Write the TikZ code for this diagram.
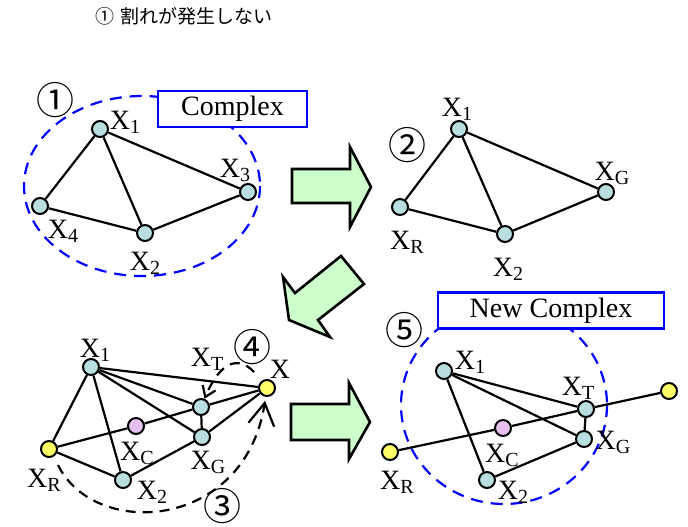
\documentclass[tikz,border=0pt]{standalone}
\usepackage{fontspec}
\setmainfont{Liberation Serif}
\newfontfamily\jpfont{Noto Sans CJK JP}
\usetikzlibrary{arrows.meta}

\newcommand{\Xsub}[1]{X\raisebox{-0.3ex}{\fontsize{10}{10}\selectfont #1}}

\begin{document}
\begin{tikzpicture}[x=0.5pt,y=-0.5pt,>={Straight Barb[length=5pt,width=7pt]}]

\definecolor{atomcyan}{RGB}{185, 222, 224}
\definecolor{atomyellow}{RGB}{255, 255, 102}
\definecolor{atompink}{RGB}{232, 192, 240}
\definecolor{arrowgreen}{RGB}{204, 255, 204}

\useasboundingbox (0,0) rectangle (688,526);

\tikzset{
    atom/.style={
        circle, draw=black, line width=1pt, fill=#1,
        minimum size=8pt, inner sep=0pt
    },
    atom/.default=atomcyan,
    bond/.style={draw=black, line width=1.1pt},
    tag/.style={font=\fontsize{14}{14}\selectfont, inner sep=0pt},
    stagenum/.style={font=\jpfont\fontsize{19}{19}\selectfont, inner sep=0pt},
    complexline/.style={draw=blue, line width=1.1pt, dash pattern=on 6pt off 4pt},
    complexbox/.style={
        draw=blue, line width=1.1pt, fill=white,
        minimum height=18pt, inner sep=0pt,
        font=\fontsize{14}{14}\selectfont
    },
    fatarrow/.style={draw=black, line width=1.3pt, fill=arrowgreen, line join=miter},
    moveline/.style={draw=black, line width=1.1pt, dash pattern=on 5pt off 3.5pt}
}

% Title
\node[anchor=west, inner sep=0pt] (title) at (95,16)
    {\jpfont\fontsize{9.5}{10}\selectfont ①\hspace{3pt}割れが発生しない};

% --- PANEL 1: COMPLEX ---
\draw[complexline] (142,186) ellipse [x radius=118, y radius=90];
\node[complexbox, minimum width=74.5pt] (box1) at (232.5,109) {Complex};
\node[stagenum] (n1) at (55,100) {①};

\node[atom] (a1) at (100,129) {};
\node[atom] (a3) at (248,192) {};
\node[atom] (a4) at (40,206) {};
\node[atom] (a2) at (145,233) {};

\draw[bond] (a1) -- (a4);
\draw[bond] (a1) -- (a2);
\draw[bond] (a1) -- (a3);
\draw[bond] (a4) -- (a2);
\draw[bond] (a2) -- (a3);

\node[tag] (ta1) at (125,122) {\Xsub{1}};
\node[tag] (ta3) at (235,170) {\Xsub{3}};
\node[tag] (ta4) at (63,231) {\Xsub{4}};
\node[tag] (ta2) at (145,263) {\Xsub{2}};

% --- PANEL 2 ---
\node[stagenum] (n2) at (407,145) {②};

\node[atom] (b1) at (459,129) {};
\node[atom] (bG) at (606,192) {};
\node[atom] (bR) at (400,207) {};
\node[atom] (b2) at (505,234) {};

\draw[bond] (b1) -- (bR);
\draw[bond] (b1) -- (b2);
\draw[bond] (b1) -- (bG);
\draw[bond] (bR) -- (b2);
\draw[bond] (b2) -- (bG);

\node[tag] (tb1) at (457,109) {\Xsub{1}};
\node[tag] (tbG) at (612,173) {\Xsub{G}};
\node[tag] (tbR) at (407,242) {\Xsub{R}};
\node[tag] (tb2) at (508,269) {\Xsub{2}};

% --- BIG ARROWS ---
\draw[fatarrow] (292,169) -- (350,169) -- (350,147) -- (371,187)
    -- (350,227) -- (350,203) -- (292,203) -- cycle;
\draw[fatarrow] (341,256) -- (364,284) -- (318,320) -- (330,337)
    -- (289,320) -- (283,277) -- (295,293) -- cycle;
\draw[fatarrow] (291,404) -- (349,404) -- (349,383) -- (370,422)
    -- (349,459) -- (349,440) -- (291,440) -- cycle;

% --- PANEL 3 ---
\node[atom] (c1) at (91,367) {};
\node[atom=atomyellow] (cR) at (49,449) {};
\node[atom] (c2) at (123,480) {};
\node[atom=atompink] (cC) at (136,426) {};
\node[atom] (cT) at (201,407) {};
\node[atom] (cG) at (202,437) {};
\node[atom=atomyellow] (cX) at (267,388) {};

\draw[bond] (c1) -- (cR);
\draw[bond] (c1) -- (c2);
\draw[bond] (c1) -- (cX);
\draw[bond] (c1) -- (cT);
\draw[bond] (c1) -- (cG);
\draw[bond] (cR) -- (cC);
\draw[bond] (cC) -- (cT);
\draw[bond] (cR) -- (c2);
\draw[bond] (c2) -- (cG);
\draw[bond] (cT) -- (cG);
\draw[bond] (cT) -- (cX);
\draw[bond] (cG) -- (cX);

% moves
\coordinate (m4) at (254,372);
\coordinate (m3) at (58,465);
\draw[moveline, ->] (m4) .. controls (238,355) and (220,362) .. (cT);
\draw[moveline, -{Straight Barb[length=11pt,width=13pt]}, shorten >=2pt]
    (m3) .. controls (95,540) and (245,530) .. (cX);

\node[tag] (tc1) at (95,350) {\Xsub{1}};
\node[tag] (tcT) at (207,359) {\Xsub{T}};
\node[tag] (tcX) at (280,369) {X};
\node[tag] (tcC) at (137,453) {\Xsub{C}};
\node[tag] (tcG) at (208,462) {\Xsub{G}};
\node[tag] (tcR) at (44,480) {\Xsub{R}};
\node[tag] (tc2) at (152,492) {\Xsub{2}};
\node[stagenum] (n4) at (252,347) {④};
\node[stagenum] (n3) at (222,506) {③};

% --- PANEL 5: NEW COMPLEX ---
\draw[complexline] (504,405) ellipse [x radius=103, y radius=99];
\node[complexbox, minimum width=113pt] (box5) at (551,310.5) {New Complex};
\node[stagenum] (n5) at (404,330) {⑤};

\node[atom] (d1) at (444,371) {};
\node[atom] (dT) at (586,409) {};
\node[atom] (dG) at (584,439) {};
\node[atom=atompink] (dC) at (503,428) {};
\node[atom=atomyellow] (dR) at (390,452) {};
\node[atom] (d2) at (487,480) {};
\node[atom=atomyellow] (dX) at (669,391) {};

\draw[bond] (d1) -- (dT);
\draw[bond] (d1) -- (dG);
\draw[bond] (d1) -- (d2);
\draw[bond] (dT) -- (dG);
\draw[bond] (dG) -- (d2);
\draw[bond] (dR) -- (dC);
\draw[bond] (dC) -- (dT);
\draw[bond] (dT) -- (dX);

\node[tag] (td1) at (470,362) {\Xsub{1}};
\node[tag] (tdT) at (578,388) {\Xsub{T}};
\node[tag] (tdG) at (613,442) {\Xsub{G}};
\node[tag] (tdC) at (502,455) {\Xsub{C}};
\node[tag] (tdR) at (397,482) {\Xsub{R}};
\node[tag] (td2) at (513,492) {\Xsub{2}};

\end{tikzpicture}
\end{document}
